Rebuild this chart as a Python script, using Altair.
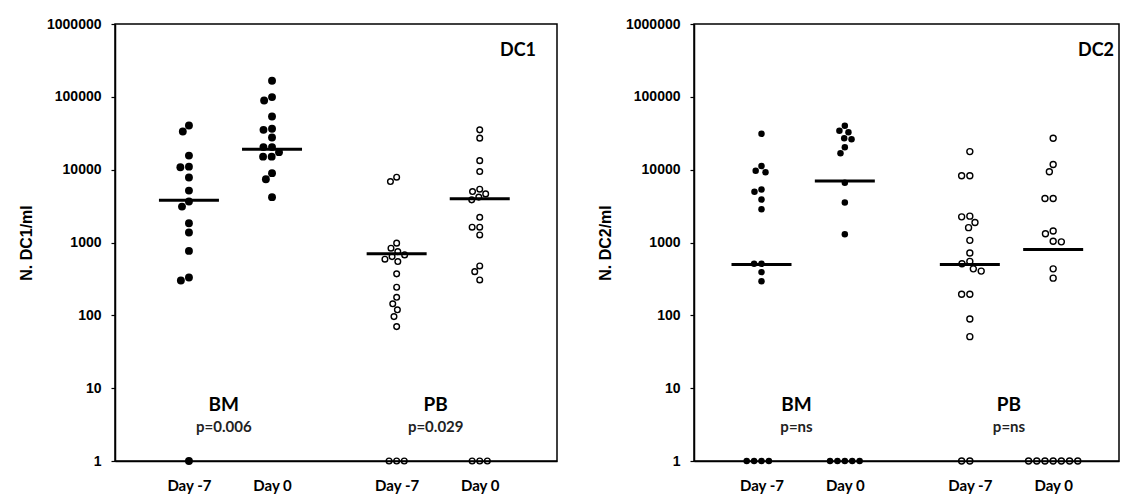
import altair as alt
import pandas as pd
import numpy as np

# ---- data ----
groups = ["BM", "BM", "PB", "PB"]
days = ["Day -7", "Day 0", "Day -7", "Day 0"]

dc1_bm_d7 = [40400, 33400, 15600, 11000, 10800, 7800, 5160, 3650, 3110, 1840, 1370, 767, 331, 301, 1]
dc1_bm_d0 = [166000, 99100, 89000, 53700, 36400, 35200, 27600, 20400, 20400, 17400, 15100, 15100, 8950, 7400, 4190]
dc1_pb_d7 = [7890, 6870, 980, 835, 750, 676, 640, 590, 547, 371, 243, 177, 144, 119, 96, 70, 1, 1, 1]
dc1_pb_d0 = [35200, 27100, 13300, 9420, 5400, 5000, 4650, 4200, 3850, 2220, 1620, 1620, 1270, 477, 398, 306, 1, 1, 1]
dc1_medians = [3800, 19000, 700, 4000]
dc1_pvalues = ["p=0.006", "p=0.029"]

dc2_bm_d7 = [31100, 11200, 9690, 9200, 5350, 4970, 3890, 2870, 510, 510, 392, 294, 1, 1, 1, 1]
dc2_bm_d0 = [40100, 34200, 32700, 27000, 26200, 20300, 16800, 6620, 3540, 1300, 1, 1, 1, 1, 1]
dc2_pb_d7 = [17700, 8260, 8260, 2300, 2250, 1880, 1600, 1070, 717, 550, 510, 435, 405, 195, 195, 89, 51, 1, 1]
dc2_pb_d0 = [27000, 11800, 9380, 4020, 4020, 1440, 1320, 1040, 1020, 435, 324, 1, 1, 1, 1, 1, 1, 1]
dc2_medians = [500, 7000, 500, 800]
dc2_pvalues = ["p=ns", "p=ns"]

y_ticks = [1, 10, 100, 1000, 10000, 100000, 1000000]
POS = [1, 2, 3.5, 4.5]


def swarm(vals, diam, ppd):
    ys = [np.log10(v) * ppd for v in vals]
    placed = []
    offs = [0.0] * len(vals)
    order = sorted(range(len(vals)), key=lambda i: -vals[i])
    for i in order:
        y = ys[i]
        intervals = []
        for (xj, yj) in placed:
            dy = abs(y - yj)
            if dy < diam:
                w = float(np.sqrt(diam ** 2 - dy ** 2))
                intervals.append((xj - w, xj + w))
        cands = [0.0] + [e for iv in intervals for e in iv]
        cands.sort(key=lambda c: (round(abs(c), 6), c))
        x = 0.0
        for c in cands:
            if all(not (a + 1e-6 < c < b - 1e-6) for a, b in intervals):
                x = c
                break
        placed.append((x, y))
        offs[i] = x
    return offs


def panel(series, medians, pvals, ytitle, label, width, height, dom,
          filled_size, open_size, filled_d, open_d, label_x):
    b = width / (dom[1] - dom[0])
    ppd = height / 6.0
    rows = []
    for gi, vals in enumerate(series):
        d = filled_d if groups[gi] == "BM" else open_d
        offs = swarm(vals, d, ppd)
        for v, o in zip(vals, offs):
            rows.append(dict(value=v, x=POS[gi] + o / b, group=groups[gi], day=days[gi]))
    df = pd.DataFrame(rows)
    half = 30.0 / b
    med = pd.DataFrame(dict(x=[p - half for p in POS], x2=[p + half for p in POS], value=medians))
    ann = pd.DataFrame(dict(
        x=[1.42, 3.97, 1.42, 3.97],
        value=[4.8, 4.8, 2.5, 2.5],
        text=["BM", "PB", pvals[0], pvals[1]],
        kind=["name", "name", "p", "p"],
    ))

    xenc = alt.X("x:Q", scale=alt.Scale(domain=dom, nice=False, zero=False),
                 axis=alt.Axis(values=POS, title=None, ticks=False, tickSize=0, grid=False,
                               labelExpr="(datum.value == 1 || datum.value == 3.5) ? 'Day -7' : 'Day 0'",
                               labelPadding=17, labelFont="Lato", labelFontSize=15,
                               labelFontWeight="bold", labelColor="black"))
    yenc = alt.Y("value:Q", scale=alt.Scale(type="log", domain=[1, 1000000], nice=False),
                 axis=alt.Axis(values=y_ticks, format="d", title=ytitle, grid=False,
                               tickSize=4, labelPadding=10, labelFont="Liberation Sans",
                               labelFontSize=14, labelFontWeight="bold", labelColor="black",
                               titleFont="Liberation Sans", titleFontSize=16, titleFontWeight="bold",
                               titlePadding=12, titleColor="black"))

    base = alt.Chart(df)
    filled = base.transform_filter(alt.datum.group == "BM").mark_point(
        shape="circle", filled=True, color="black", size=filled_size, opacity=1
    ).encode(x=xenc, y=yenc)
    opened = base.transform_filter(alt.datum.group == "PB").mark_point(
        shape="circle", filled=False, color="black", strokeWidth=1.4, size=open_size, opacity=1
    ).encode(x=xenc, y=yenc)
    rules = alt.Chart(med).mark_rule(color="black", strokeWidth=3).encode(
        x=xenc, x2="x2:Q", y=yenc)
    names = alt.Chart(ann).transform_filter(alt.datum.kind == "name").mark_text(
        font="Lato", fontSize=19, fontWeight="bold", color="black", baseline="alphabetic"
    ).encode(x=xenc, y=yenc, text="text:N")
    ps = alt.Chart(ann).transform_filter(alt.datum.kind == "p").mark_text(
        font="Lato", fontSize=15, fontWeight="bold", color="#222222", baseline="alphabetic"
    ).encode(x=xenc, y=yenc, text="text:N")
    lab = alt.Chart(pd.DataFrame(dict(t=[label]))).mark_text(
        font="Lato", fontSize=18, fontWeight="bold", color="black", align="right", baseline="alphabetic"
    ).encode(x=alt.value(label_x), y=alt.value(32), text="t:N")

    return alt.layer(rules, filled, opened, names, ps, lab).properties(width=width, height=height)


left = panel([dc1_bm_d7, dc1_bm_d0, dc1_pb_d7, dc1_pb_d0], dc1_medians, dc1_pvalues,
             "N. DC1/ml", "DC1", 442, 437, [0.11, 5.43], 62, 32, 8.6, 7.6, 421)
right = panel([dc2_bm_d7, dc2_bm_d0, dc2_pb_d7, dc2_pb_d0], dc2_medians, dc2_pvalues,
              "N. DC2/ml", "DC2", 425, 437, [0.19, 5.29], 42, 36, 7.4, 8.2, 420)

chart = alt.hconcat(left, right, spacing=38).properties(
    padding={"left": 9, "top": 8, "right": 0, "bottom": 0}
).configure_view(stroke="black", strokeWidth=1.5).configure_axis(
    domainColor="black", domainWidth=1.5, tickColor="black", tickWidth=1.2
)

chart.save("out.html", embed_options={"renderer": "svg", "actions": False})
